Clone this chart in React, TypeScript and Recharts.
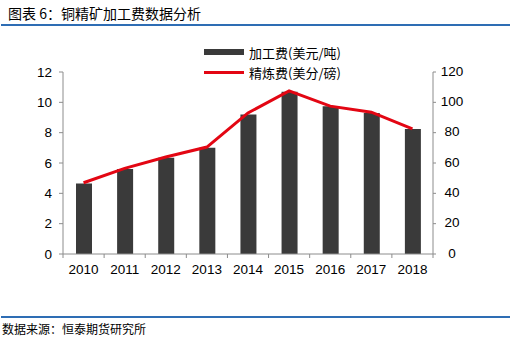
import { Bar, ComposedChart, Legend, Line, XAxis, YAxis } from "recharts";

const years = ["2010", "2011", "2012", "2013", "2014", "2015", "2016", "2017", "2018"];
const processingFee = [4.65, 5.6, 6.35, 7.0, 9.2, 10.7, 9.75, 9.3, 8.25];
const refiningFee = [47, 56.5, 64, 70.5, 93, 107.5, 97.5, 93.5, 82.5];
const leftTicks = [0, 2, 4, 6, 8, 10, 12];
const rightTicks = [0, 20, 40, 60, 80, 100, 120];

const data = years.map((year, i) => ({
  year,
  fee: processingFee[i],
  refine: refiningFee[i],
}));

const PLOT_LEFT = 63;
const PLOT_RIGHT = 433;
const PLOT_TOP = 72;
const PLOT_BOTTOM = 254;
const CHART_W = 518;
const CHART_H = 300;
const LEFT_AXIS_W = 30;
const RIGHT_AXIS_W = 40;
const X_AXIS_H = 30;
const BAND = (PLOT_RIGHT - PLOT_LEFT) / years.length;

const AXIS_COLOR = "#8c8c8c";
const FONT = "'Liberation Sans', Arial, sans-serif";
const CJK = "'Noto Sans CJK SC', sans-serif";

const YearTick = ({ x, y, payload, index }: any) => (
  <g>
    <line x1={x - BAND / 2} y1={y} x2={x - BAND / 2} y2={y + 4} stroke={AXIS_COLOR} />
    {index === years.length - 1 && (
      <line x1={x + BAND / 2} y1={y} x2={x + BAND / 2} y2={y + 4} stroke={AXIS_COLOR} />
    )}
    <text x={x} y={y + 16} textAnchor="middle" dominantBaseline="middle" fontSize={13.5} fontFamily={FONT} fill="#000">
      {payload.value}
    </text>
  </g>
);

const RightTick = ({ x, y, payload }: any) => (
  <g>
    <line x1={x} y1={y} x2={x + 3} y2={y} stroke={AXIS_COLOR} />
    <text x={x + 19} y={y} textAnchor="middle" dominantBaseline="middle" fontSize={13.5} fontFamily={FONT} fill="#000">
      {payload.value}
    </text>
  </g>
);

const LegendBox = ({ payload }: any) => (
  <div style={{ fontFamily: CJK, fontSize: 13, color: "#000" }}>
    {(payload || []).map((p: any) => (
      <div key={p.value} style={{ display: "flex", alignItems: "center", height: 20 }}>
        <span
          style={{
            display: "inline-block",
            width: 40,
            height: p.type === "rect" ? 6 : 3,
            background: p.color,
            marginRight: 5,
          }}
        />
        <span>{p.value}</span>
      </div>
    ))}
  </div>
);

export default function App() {
  return (
    <div style={{ position: "absolute", left: 0, top: 0, width: 518, height: 338, background: "#fff" }}>
      <div style={{ position: "absolute", left: 8, top: 3, fontFamily: CJK, fontSize: 14, color: "#000", lineHeight: "20px" }}>
        图表 6：铜精矿加工费数据分析
      </div>
      <div style={{ position: "absolute", left: 1, top: 24, width: 509, height: 2, background: "#2e6db4" }} />
      <div style={{ position: "absolute", left: 0, top: 0 }}>
        <ComposedChart
          width={CHART_W}
          height={CHART_H}
          data={data}
          margin={{
            top: PLOT_TOP,
            left: PLOT_LEFT - LEFT_AXIS_W,
            right: CHART_W - PLOT_RIGHT - RIGHT_AXIS_W,
            bottom: CHART_H - PLOT_BOTTOM - X_AXIS_H,
          }}
        >
          <XAxis
            dataKey="year"
            height={X_AXIS_H}
            stroke={AXIS_COLOR}
            tickLine={false}
            tickSize={0}
            tickMargin={0}
            tick={<YearTick />}
            interval={0}
          />
          <YAxis
            yAxisId="left"
            width={LEFT_AXIS_W}
            domain={[0, 12]}
            ticks={leftTicks}
            stroke={AXIS_COLOR}
            tickSize={4}
            tickMargin={7}
            tick={{ fill: "#000", fontSize: 13.5, fontFamily: FONT }}
          />
          <YAxis
            yAxisId="right"
            orientation="right"
            width={RIGHT_AXIS_W}
            domain={[0, 120]}
            ticks={rightTicks}
            stroke={AXIS_COLOR}
            tickLine={false}
            tickSize={0}
            tickMargin={0}
            tick={<RightTick />}
          />
          <Legend
            layout="vertical"
            align="center"
            verticalAlign="middle"
            content={<LegendBox />}
            wrapperStyle={{ position: "absolute", left: 204, top: 42, width: 160 }}
          />
          <Bar
            yAxisId="left"
            dataKey="fee"
            name="加工费(美元/吨)"
            fill="#3a3a3a"
            barSize={16}
            legendType="rect"
            isAnimationActive={false}
          />
          <Line
            yAxisId="right"
            dataKey="refine"
            name="精炼费(美分/磅)"
            type="linear"
            stroke="#e30613"
            strokeWidth={3}
            dot={false}
            legendType="line"
            isAnimationActive={false}
          />
        </ComposedChart>
      </div>
      <div style={{ position: "absolute", left: 1, top: 316, width: 509, height: 2, background: "#2e6db4" }} />
      <div style={{ position: "absolute", left: 2, top: 321, fontFamily: CJK, fontSize: 12, color: "#000", lineHeight: "16px" }}>
        数据来源：恒泰期货研究所
      </div>
    </div>
  );
}
